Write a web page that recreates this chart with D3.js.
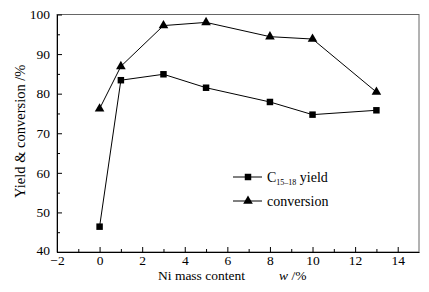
<!DOCTYPE html>
<html lang="en">
<head>
<meta charset="UTF-8">
<script src="https://d3js.org/d3.v7.min.js"></script>
<style>
    body { margin: 0; background: #fff; }
    svg text { font-family: "Liberation Serif", "DejaVu Serif", serif !important; fill: #000; }
</style>
</head>
<body>
<svg width="429" height="292"></svg>
<script>
// data
const niContent = [0, 1, 3, 5, 8, 10, 13];
const yieldVals = [46.4, 83.4, 84.9, 81.5, 77.9, 74.7, 75.8];
const conversionVals = [76.2, 86.9, 97.2, 98.0, 94.4, 93.8, 80.4];
const xTicks = [-2, 0, 2, 4, 6, 8, 10, 12, 14];
const yTicks = [40, 50, 60, 70, 80, 90, 100];

const margin = {top: 14.5, right: 10, bottom: 40, left: 57};
const width = 429 - margin.left - margin.right,
      height = 292 - margin.top - margin.bottom;

const svg = d3.select("svg");
const g = svg.append("g").attr("transform", `translate(${margin.left},${margin.top})`);

const x = d3.scaleLinear().domain([-2, 15]).range([0, width]);
const y = d3.scaleLinear().domain([40, 100]).range([height, 0]);

// frame
g.append("rect")
    .attr("width", width).attr("height", height)
    .attr("fill", "none").attr("stroke", "#666").attr("stroke-width", 1);

// x axis, ticks point inward
const xAxis = g.append("g")
    .attr("transform", `translate(0,${height})`)
    .call(d3.axisBottom(x).tickValues(xTicks).tickSizeInner(-5).tickSizeOuter(0).tickPadding(3));
g.append("g")
    .attr("transform", `translate(0,${height})`)
    .call(d3.axisBottom(x).tickValues(d3.range(-1, 15, 2)).tickSizeInner(-3).tickSizeOuter(0).tickFormat(""))
    .select(".domain").remove();
xAxis.selectAll("text").style("font-size", "13.5px").text(d => d < 0 ? "\u2212" + Math.abs(d) : d);

// y axis
const yAxis = g.append("g")
    .call(d3.axisLeft(y).tickValues(yTicks).tickSizeInner(-5).tickSizeOuter(0).tickPadding(7));
g.append("g")
    .call(d3.axisLeft(y).tickValues(d3.range(45, 100, 10)).tickSizeInner(-3).tickSizeOuter(0).tickFormat(""))
    .select(".domain").remove();
yAxis.selectAll("text").style("font-size", "13.5px");
// bottom label sits a little higher, as in the figure
yAxis.selectAll(".tick").filter(d => d === 40).select("text").attr("y", -2);

g.selectAll(".domain").attr("stroke", "#000");

// axis titles
svg.append("text")
    .attr("x", 158).attr("y", 280)
    .style("font-size", "13.5px")
    .text("Ni mass content");
const wTitle = svg.append("text")
    .attr("x", 279).attr("y", 280)
    .style("font-size", "13.5px");
wTitle.append("tspan").style("font-style", "italic").text("w");
wTitle.append("tspan").text(" /%");

svg.append("text")
    .attr("transform", `translate(25,${margin.top + height / 2 - 2}) rotate(-90)`)
    .attr("text-anchor", "middle")
    .style("font-size", "14.5px")
    .text("Yield & conversion /%");

// lines and markers
const line = d3.line().x(d => x(d[0])).y(d => y(d[1]));
const yieldPts = niContent.map((v, i) => [v, yieldVals[i]]);
const convPts = niContent.map((v, i) => [v, conversionVals[i]]);

[yieldPts, convPts].forEach(pts => {
    g.append("path").datum(pts)
        .attr("d", line).attr("fill", "none")
        .attr("stroke", "#000").attr("stroke-width", 1);
});

const sq = d3.symbol().type(d3.symbolSquare).size(42);
const tri = d3.symbol().type(d3.symbolTriangle).size(40);

g.selectAll(".sq").data(yieldPts).enter().append("path")
    .attr("transform", d => `translate(${x(d[0])},${y(d[1])})`)
    .attr("d", sq).attr("fill", "#000");
g.selectAll(".tri").data(convPts).enter().append("path")
    .attr("transform", d => `translate(${x(d[0])},${y(d[1])})`)
    .attr("d", tri).attr("fill", "#000");

// legend
const legend = svg.append("g").attr("transform", "translate(233,177)");
[["yield", sq], ["conv", tri]].forEach((item, i) => {
    const row = legend.append("g").attr("transform", `translate(0,${i * 24})`);
    row.append("line").attr("x1", 0).attr("x2", 29).attr("stroke", "#000");
    row.append("path").attr("transform", "translate(15,0)").attr("d", item[1]).attr("fill", "#000");
});
const l1 = legend.append("text").attr("x", 34).attr("y", 5).style("font-size", "14px");
l1.append("tspan").text("C");
l1.append("tspan").attr("dy", 3).style("font-size", "8px").text("15\u201318");
l1.append("tspan").attr("dy", -3).text(" yield");
legend.append("text").attr("x", 34).attr("y", 29).style("font-size", "14px").text("conversion");
</script>
</body>
</html>
